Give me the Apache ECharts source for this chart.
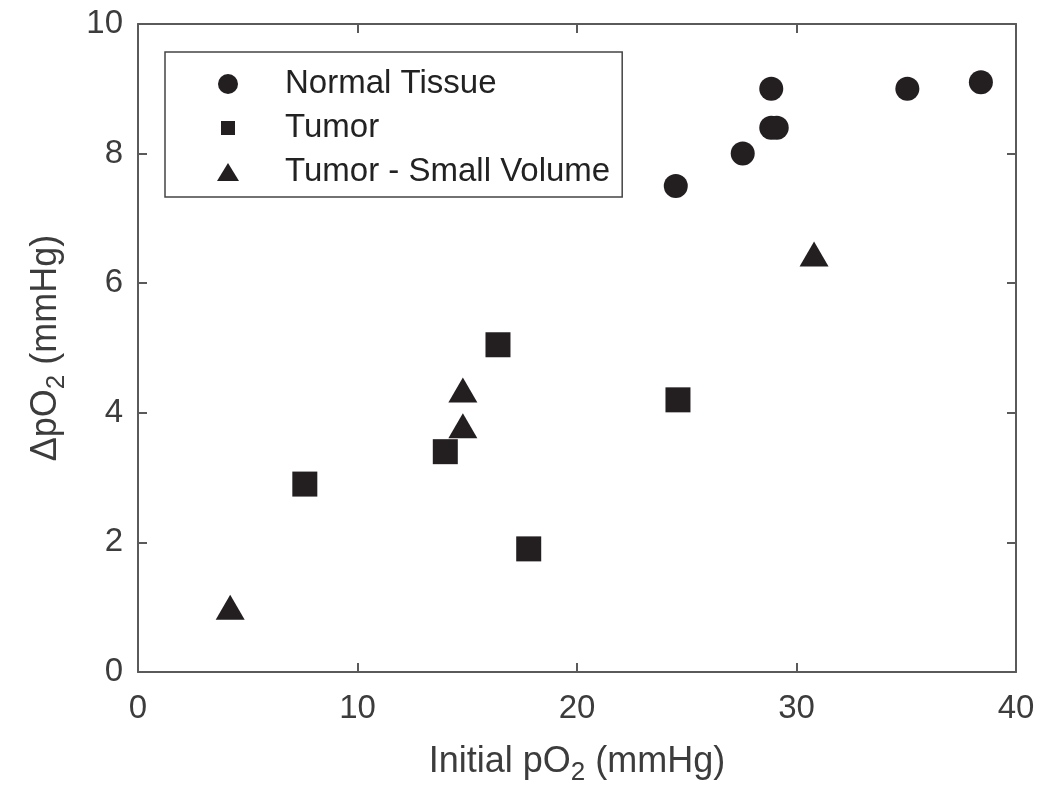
<!DOCTYPE html>
<html>
<head>
<meta charset="utf-8">
<script src="https://cdn.jsdelivr.net/npm/echarts@6/dist/echarts.min.js"></script>
<style>html,body{margin:0;padding:0;background:#fff;}#chart{width:1050px;height:805px;}</style>
</head>
<body>
<div id="chart"></div>
<script>
// Data: [Initial pO2 (mmHg), ΔpO2 (mmHg)]
const normalTissue = [[24.5, 7.5], [27.55, 8.0], [28.85, 9.0], [28.85, 8.4], [29.1, 8.4], [35.05, 9.0], [38.4, 9.1]];
const tumor = [[7.6, 2.9], [14.0, 3.4], [16.4, 5.05], [17.8, 1.9], [24.6, 4.2]];
const tumorSmall = [[4.2, 1.0], [14.8, 3.8], [14.8, 4.35], [30.8, 6.45]];
const seriesNames = ['Normal Tissue', 'Tumor', 'Tumor - Small Volume'];
const xTicks = [0, 10, 20, 30, 40];
const yTicks = [0, 2, 4, 6, 8, 10];

const FONT = '"Liberation Sans", Arial, Helvetica, sans-serif';
const INK = '#231f20';
const AXIS = '#5a5a5a';
const LABEL = '#3c3c3c';

const chart = echarts.init(document.getElementById('chart'), null, {renderer: 'canvas'});

const common = {
  min: 0,
  axisLine: {show: true, onZero: false, lineStyle: {color: AXIS, width: 2}},
  axisTick: {show: true, inside: true, length: 9, lineStyle: {color: AXIS, width: 2}},
  splitLine: {show: false}
};

chart.setOption({
  animation: false,
  backgroundColor: '#fff',
  textStyle: {fontFamily: FONT},
  grid: {left: 138, right: 34, top: 24, bottom: 133},
  legend: {
    orient: 'vertical',
    left: 165, top: 52,
    backgroundColor: '#fff',
    borderColor: '#444', borderWidth: 1.5,
    padding: [15, 12, 8, 52],
    itemWidth: 22, itemHeight: 22, itemGap: 10,
    textStyle: {fontSize: 33, lineHeight: 34, color: '#222', fontFamily: FONT, padding: [0, 0, 0, 41]},
    data: [
      {name: seriesNames[0], icon: 'path://M0,0M22,22M1,1m0,10a10,10 0 1,0 20,0a10,10 0 1,0 -20,0z'},
      {name: seriesNames[1], icon: 'path://M0,0M22,22M4,4h14v14h-14z'},
      {name: seriesNames[2], icon: 'path://M0,0M22,22M0,20L11,2L22,20z'}
    ],
    selectedMode: false
  },
  xAxis: [
    Object.assign({}, common, {
      type: 'value', max: 40, interval: 10, position: 'bottom',
      axisLabel: {fontSize: 33, color: LABEL, margin: 20, fontFamily: FONT,
        formatter: v => xTicks.includes(v) ? String(v) : ''},
      name: 'Initial pO{sub|2} (mmHg)', nameLocation: 'middle', nameGap: 66,
      nameTextStyle: {fontSize: 36, color: LABEL, fontFamily: FONT,
        rich: {sub: {fontSize: 26, color: LABEL, fontFamily: FONT, padding: [22, 0, 0, 0]}}}
    }),
    Object.assign({}, common, {
      type: 'value', max: 40, interval: 10, position: 'top',
      axisLabel: {show: false}
    })
  ],
  yAxis: [
    Object.assign({}, common, {
      type: 'value', max: 10, interval: 2, position: 'left',
      axisLabel: {fontSize: 33, color: LABEL, margin: 15, fontFamily: FONT,
        formatter: v => yTicks.includes(v) ? String(v) : ''},
      name: 'ΔpO{sub|2} (mmHg)', nameLocation: 'middle', nameGap: 68,
      nameTextStyle: {fontSize: 36, color: LABEL, fontFamily: FONT,
        rich: {sub: {fontSize: 26, color: LABEL, fontFamily: FONT, padding: [22, 0, 0, 0]}}}
    }),
    Object.assign({}, common, {
      type: 'value', max: 10, interval: 2, position: 'right',
      axisLabel: {show: false}
    })
  ],
  series: [
    {name: seriesNames[0], type: 'scatter', data: normalTissue, symbol: 'circle', symbolSize: 24,
      itemStyle: {color: INK, opacity: 1}},
    {name: seriesNames[1], type: 'scatter', data: tumor, symbol: 'rect', symbolSize: 25,
      itemStyle: {color: INK, opacity: 1}},
    {name: seriesNames[2], type: 'scatter', data: tumorSmall, symbol: 'triangle', symbolSize: [29, 25],
      itemStyle: {color: INK, opacity: 1}}
  ]
});
</script>
</body>
</html>
